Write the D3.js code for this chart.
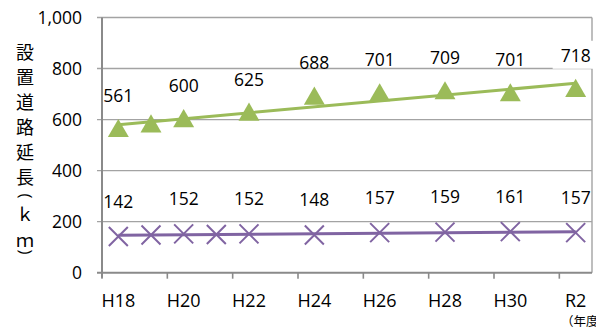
<!DOCTYPE html>
<html>
<head>
<meta charset="utf-8">
<script src="https://cdn.jsdelivr.net/npm/d3@7"></script>
<style>
  html, body { margin: 0; padding: 0; background: #fff; }
  svg { display: block; }
  text { font-family: "Open Sans", "Noto Sans CJK JP", sans-serif; fill: #000; }
</style>
</head>
<body>
<svg id="chart" width="596" height="335"></svg>
<script>
// Fiscal years (H18 … R2), one slot per year
const years = ["H18","H19","H20","H21","H22","H23","H24","H25","H26","H27","H28","H29","H30","R1","R2"];
// Years that carry an axis label and a value label
const tickYears = ["H18","H20","H22","H24","H26","H28","H30","R2"];
// Road length with equipment (km), upper series
const upperValues = [561, 579, 600, null, 625, null, 688, null, 701, null, 709, null, 701, null, 718];
// Road length (km), lower series
const lowerValues = [142, 148, 152, 150, 152, null, 148, null, 157, null, 159, null, 161, null, 157];
const yTicks = [0, 200, 400, 600, 800, 1000];
const yTitleChars = ["設","置","道","路","延","長","(","ｋ","ｍ",")"];

const svg = d3.select("#chart");
const plotLeft = 102, plotRight = 592, plotTop = 17.5, plotBottom = 272.7;

const x = d3.scaleLinear().domain([-0.5, years.length - 0.5]).range([plotLeft, plotRight]);
const y = d3.scaleLinear().domain([0, 1000]).range([plotBottom, plotTop]);

const gridColor = "#a3a3a3", axisColor = "#8a8a8a";

// horizontal gridlines, with short outward ticks
svg.append("g").selectAll("line").data(yTicks.filter(d => d > 0)).join("line")
  .attr("x1", plotLeft - 5).attr("x2", plotRight)
  .attr("y1", d => y(d)).attr("y2", d => y(d))
  .attr("stroke", gridColor).attr("stroke-width", 1.4);

// right frame line
svg.append("line").attr("x1", plotRight).attr("x2", plotRight).attr("y1", plotTop).attr("y2", plotBottom)
  .attr("stroke", gridColor).attr("stroke-width", 1.4);

// y axis labels
svg.append("g").selectAll("text").data(yTicks).join("text")
  .attr("x", 82).attr("y", d => y(d)).attr("dy", "0.36em")
  .attr("text-anchor", "end").attr("font-size", 17.5)
  .text(d => d3.format(",")(d));

// x axis line and tick marks every two years
svg.append("line").attr("x1", plotLeft - 5).attr("x2", plotRight).attr("y1", plotBottom).attr("y2", plotBottom)
  .attr("stroke", axisColor).attr("stroke-width", 2);
svg.append("line").attr("x1", plotLeft).attr("x2", plotLeft).attr("y1", plotTop).attr("y2", plotBottom + 5)
  .attr("stroke", axisColor).attr("stroke-width", 2);
const tickBounds = d3.range(0, years.length, 2).map(i => i - 0.5);
svg.append("g").selectAll("line").data(tickBounds).join("line")
  .attr("x1", d => x(d)).attr("x2", d => x(d))
  .attr("y1", plotBottom).attr("y2", plotBottom + 6)
  .attr("stroke", axisColor).attr("stroke-width", 1.6);

// x axis labels
svg.append("g").selectAll("text").data(tickYears).join("text")
  .attr("x", d => x(years.indexOf(d))).attr("y", 306.5)
  .attr("text-anchor", "middle").attr("font-size", 18)
  .text(d => d);
svg.append("text").attr("x", 561).attr("y", 326).attr("font-size", 12.5)
  .attr("font-family", "Noto Sans CJK JP").text("（年度）");

// y axis title, stacked vertically
const titleY = [53, 78, 103, 128, 153, 178, 196, 215, 241, 252];
yTitleChars.forEach((c, i) => {
  const t = svg.append("text").attr("font-size", 18).attr("text-anchor", "middle")
    .attr("font-family", "Noto Sans CJK JP").text(c);
  if (c === "(" || c === ")") {
    t.attr("font-family", "Open Sans").attr("font-size", 17)
     .attr("transform", `translate(25,${titleY[i]}) rotate(90)`).attr("dy", "0.32em");
  } else {
    t.attr("x", 25).attr("y", titleY[i]).attr("dy", "0.36em");
  }
});

// least-squares trendline over the points present
function trend(values) {
  const pts = values.map((v, i) => [i, v]).filter(p => p[1] != null);
  const mx = d3.mean(pts, p => p[0]), my = d3.mean(pts, p => p[1]);
  const slope = d3.sum(pts, p => (p[0] - mx) * (p[1] - my)) / d3.sum(pts, p => (p[0] - mx) ** 2);
  const i0 = pts[0][0], i1 = pts[pts.length - 1][0];
  return [[i0, my + slope * (i0 - mx)], [i1, my + slope * (i1 - mx)]];
}
const line = d3.line().x(d => x(d[0])).y(d => y(d[1]));

const green = "#9bbb59", purple = "#8064a2";

svg.append("path").attr("d", line(trend(upperValues)))
  .attr("stroke", green).attr("stroke-width", 3).attr("fill", "none");
svg.append("path").attr("d", line(trend(lowerValues)))
  .attr("stroke", purple).attr("stroke-width", 3).attr("fill", "none");

// triangle markers
const tri = d3.symbol().type(d3.symbolTriangle).size(190);
svg.append("g").selectAll("path")
  .data(upperValues.map((v, i) => [i, v]).filter(d => d[1] != null)).join("path")
  .attr("d", tri)
  .attr("transform", d => `translate(${x(d[0])},${y(d[1]) + 1.5})`)
  .attr("fill", green);

// cross markers
svg.append("g").selectAll("path")
  .data(lowerValues.map((v, i) => [i, v]).filter(d => d[1] != null)).join("path")
  .attr("d", "M-9.5,-9.5L9.5,9.5M-9.5,9.5L9.5,-9.5")
  .attr("transform", d => `translate(${x(d[0])},${y(d[1])})`)
  .attr("stroke", purple).attr("stroke-width", 2).attr("fill", "none");

// value labels
function addLabels(values, offset, cls) {
  const g = svg.append("g");
  tickYears.forEach(yr => {
    const i = years.indexOf(yr);
    const v = values[i];
    if (v == null) return;
    g.append("text").attr("class", cls)
      .attr("x", x(i)).attr("y", y(v) - offset).attr("dy", "0.36em")
      .attr("text-anchor", "middle").attr("font-size", 17.5).text(v);
  });
  return g;
}
const upperLabels = addLabels(upperValues, 34, "upper");
addLabels(lowerValues, 35, "lower");

// the last upper label sits on a white box
const lastNode = upperLabels.selectAll("text").nodes().pop();
const bb = lastNode.getBBox();
upperLabels.insert("rect", () => lastNode)
  .attr("x", bb.x - 8).attr("y", bb.y - 2).attr("width", bb.width + 16).attr("height", bb.height + 4)
  .attr("fill", "#fff");
</script>
</body>
</html>
